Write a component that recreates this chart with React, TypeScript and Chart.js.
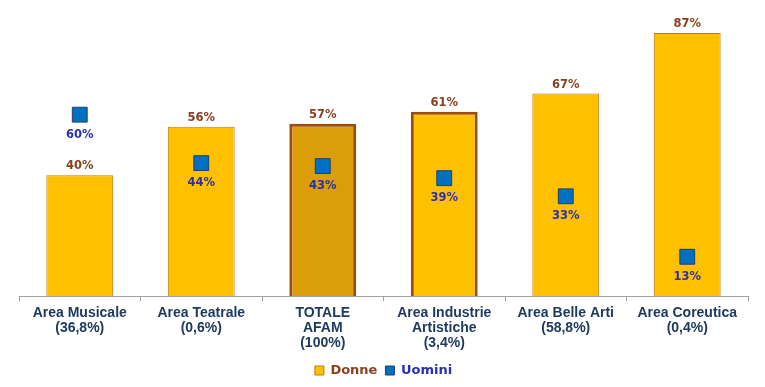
import React, { useEffect, useRef } from "react";
import { Chart, registerables } from "chart.js";

Chart.register(...registerables);

const categories: string[][] = [
  ["Area Musicale", "(36,8%)"],
  ["Area Teatrale", "(0,6%)"],
  ["TOTALE", "AFAM", "(100%)"],
  ["Area Industrie", "Artistiche", "(3,4%)"],
  ["Area Belle Arti", "(58,8%)"],
  ["Area Coreutica", "(0,4%)"],
];
const donne: number[] = [40, 56, 57, 61, 67, 87];
const uomini: number[] = [60, 44, 43, 39, 33, 13];

const YELLOW = "#FFC000";
const DARK_YELLOW = "#DB9E08";
const BROWN_BORDER = "#9A4A12";
const THIN_BORDER = "#C07A10";
const BLUE = "#0070C0";
const BLUE_BORDER = "#1F3F6F";
const DONNE_TEXT = "#8A4020";
const UOMINI_TEXT = "#2830B0";
const AXIS_TEXT = "#1F3A60";

const labelPlugin = {
  id: "valueLabels",
  afterDatasetsDraw(chart: any) {
    const ctx = chart.ctx;
    ctx.save();
    ctx.font = "bold 11.5px 'DejaVu Sans', sans-serif";
    ctx.textAlign = "center";
    const barMeta = chart.getDatasetMeta(0);
    barMeta.data.forEach((el: any, i: number) => {
      ctx.fillStyle = DONNE_TEXT;
      ctx.textBaseline = "alphabetic";
      ctx.fillText(donne[i] + "%", el.x, el.y - 6);
    });
    const ptMeta = chart.getDatasetMeta(1);
    ptMeta.data.forEach((el: any, i: number) => {
      ctx.fillStyle = UOMINI_TEXT;
      ctx.textBaseline = "middle";
      ctx.fillText(uomini[i] + "%", el.x, el.y + 20);
    });
    ctx.restore();
  },
};

export default function App() {
  const ref = useRef<HTMLCanvasElement | null>(null);
  useEffect(() => {
    if (!ref.current) return;
    const chart = new Chart(ref.current, {
      type: "bar",
      data: {
        labels: categories,
        datasets: [
          {
            type: "bar",
            label: "Donne",
            data: donne,
            order: 1,
            backgroundColor: donne.map((_, i) => (i === 2 ? DARK_YELLOW : YELLOW)),
            borderColor: donne.map((_, i) => (i === 2 || i === 3 ? BROWN_BORDER : THIN_BORDER)),
            borderWidth: donne.map((_, i) => (i === 2 || i === 3 ? 3 : 1)),
            barPercentage: 0.55,
            categoryPercentage: 1,
          },
          {
            type: "line",
            label: "Uomini",
            data: uomini,
            order: 0,
            showLine: false,
            pointStyle: "rect",
            pointRadius: 10.5,
            pointBackgroundColor: BLUE,
            pointBorderColor: BLUE_BORDER,
            pointBorderWidth: 1,
          } as any,
        ],
      },
      options: {
        responsive: false,
        animation: false,
        layout: { padding: { left: 19, right: 17, top: 24, bottom: 0 } },
        scales: {
          y: { display: false, min: 0, max: 90 },
          x: {
            offset: true,
            grid: {
              offset: true,
              drawOnChartArea: false,
              drawTicks: true,
              tickLength: 5,
              color: "#A0A0A0",
            },
            border: { color: "#A0A0A0", width: 1 },
            ticks: {
              color: AXIS_TEXT,
              padding: 5,
              maxRotation: 0,
              autoSkip: false,
              font: { family: "'Liberation Sans', Arial, sans-serif", size: 14, weight: "bold", lineHeight: 1.07 },
            },
          },
        },
        plugins: {
          tooltip: { enabled: false },
          legend: {
            position: "bottom",
            labels: {
              boxWidth: 9,
              boxHeight: 9,
              padding: 8,
              font: { family: "'DejaVu Sans', sans-serif", size: 13, weight: "bold" },
              generateLabels: () => [
                {
                  text: "Donne",
                  fillStyle: YELLOW,
                  strokeStyle: THIN_BORDER,
                  lineWidth: 1,
                  fontColor: DONNE_TEXT,
                  hidden: false,
                  datasetIndex: 0,
                } as any,
                {
                  text: "Uomini",
                  fillStyle: BLUE,
                  strokeStyle: BLUE_BORDER,
                  lineWidth: 1,
                  fontColor: UOMINI_TEXT,
                  hidden: false,
                  datasetIndex: 1,
                } as any,
              ],
            },
          },
        },
      },
      plugins: [labelPlugin],
    });
    return () => chart.destroy();
  }, []);
  return (
    <div style={{ position: "fixed", left: 0, top: 0, background: "#fff" }}>
      <canvas ref={ref} width={765} height={387} style={{ display: "block" }} />
    </div>
  );
}
